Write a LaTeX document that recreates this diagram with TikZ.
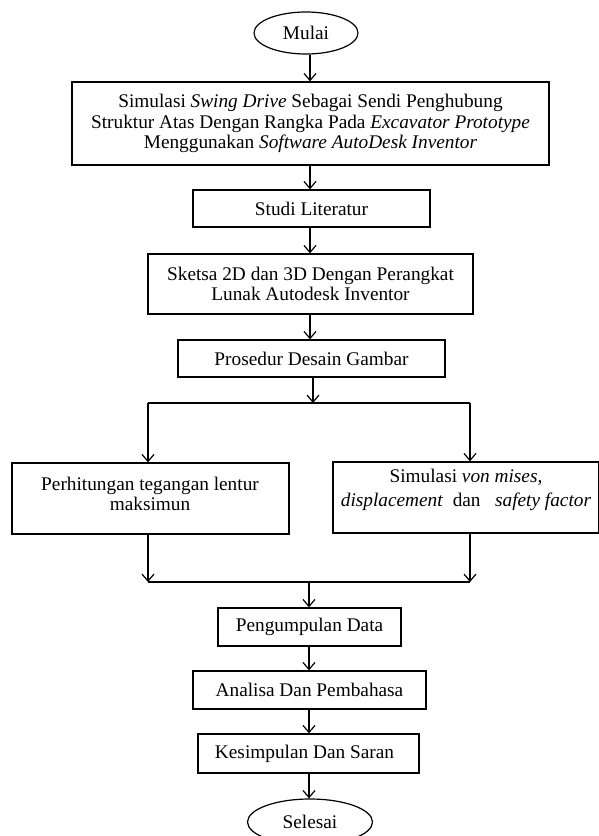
\documentclass[tikz,border=0pt]{standalone}
\usepackage{fontspec}
\setmainfont{Liberation Serif}
\usetikzlibrary{arrows.meta,shapes.geometric}
\tikzset{
  box/.style={draw, line width=1.3pt, rectangle, inner sep=0pt, align=center},
  oval/.style={draw, line width=1.2pt, ellipse, inner sep=0pt},
  arr/.style={line width=1.3pt, -{Straight Barb[length=7pt,width=12pt,line width=1.2pt]}},
  ln/.style={line width=1.3pt},
}
\begin{document}
\begin{tikzpicture}[x=1pt,y=-1pt,font=\fontsize{19.3}{20.5}\selectfont]
\useasboundingbox (0,0) rectangle (599,836);
\fill[white] (0,0) rectangle (599,836);
\begin{scope}
\clip (0,0) rectangle (599,836);
\node[oval, minimum width=104pt, minimum height=42pt] (mulai) at (306,33) {Mulai};
\node[box, minimum width=477pt, minimum height=83pt] (r1) at (310.5,123.5)
  {Simulasi \textit{Swing Drive} Sebagai Sendi Penghubung\\
   Struktur Atas Dengan Rangka Pada \textit{Excavator Prototype}\\
   Menggunakan \textit{Software AutoDesk Inventor}};
\node[box, minimum width=237pt, minimum height=37pt] (studi) at (311.5,208.5) {Studi Literatur};
\node[box, minimum width=325pt, minimum height=60pt] (sketsa) at (310.5,284)
  {Sketsa 2D dan 3D Dengan Perangkat\\ Lunak Autodesk Inventor};
\node[box, minimum width=267pt, minimum height=37pt] (pros) at (311.5,358.5) {Prosedur Desain Gambar};
\node[box, minimum width=277pt, minimum height=71pt] (left) at (150.5,498.5) {};
\node[align=center, inner sep=0pt] (lefttxt) at (150,494) {Perhitungan tegangan lentur\\ maksimun};
\node[box, minimum width=266pt, minimum height=71pt] (right) at (466,497.5) {};
\node[align=center, inner sep=0pt] (righttxt) at (466,490)
  {Simulasi \textit{von mises,}\\[3pt] \textit{displacement}\ \ dan\ \ \ \textit{safety factor}};
\node[box, minimum width=183pt, minimum height=38pt] (peng) at (309.5,627) {Pengumpulan Data};
\node[box, minimum width=233pt, minimum height=38pt] (anal) at (309.5,690) {Analisa Dan Pembahasa};
\node[draw, line width=1.3pt, rectangle, inner sep=0pt, minimum width=221pt, minimum height=39pt] (kes) at (308.5,753.5) {Kesimpulan Dan Saran\kern8pt};
\node[oval, minimum width=125pt, minimum height=46pt] (sel) at (310,822) {Selesai};

\coordinate (b1) at (313,403);
\coordinate (bl) at (148,403);
\coordinate (br) at (470,403);
\coordinate (jl) at (148,582);
\coordinate (jr) at (470,582);
\coordinate (jm) at (309,582);

\draw[arr] (310,0 |- mulai.south) -- (310,0 |- r1.north);
\draw[arr] (310,0 |- r1.south) -- (310,0 |- studi.north);
\draw[arr] (310,0 |- studi.south) -- (310,0 |- sketsa.north);
\draw[arr] (310,0 |- sketsa.south) -- (310,0 |- pros.north);
\draw[arr] (b1 |- pros.south) -- (b1);
\draw[ln] (bl) -- (br);
\draw[arr] (bl) -- (bl |- left.north);
\draw[arr] (br) -- (br |- right.north);
\draw[arr] (jl |- left.south) -- (jl);
\draw[arr] (jr |- right.south) -- (jr);
\draw[ln] (jl) -- (jr);
\draw[arr] (jm) -- (jm |- peng.north);
\draw[arr] (309,0 |- peng.south) -- (309,0 |- anal.north);
\draw[arr] (309,0 |- anal.south) -- (309,0 |- kes.north);
\draw[arr] (309,0 |- kes.south) -- (309,0 |- sel.north);
\end{scope}
\end{tikzpicture}
\end{document}
